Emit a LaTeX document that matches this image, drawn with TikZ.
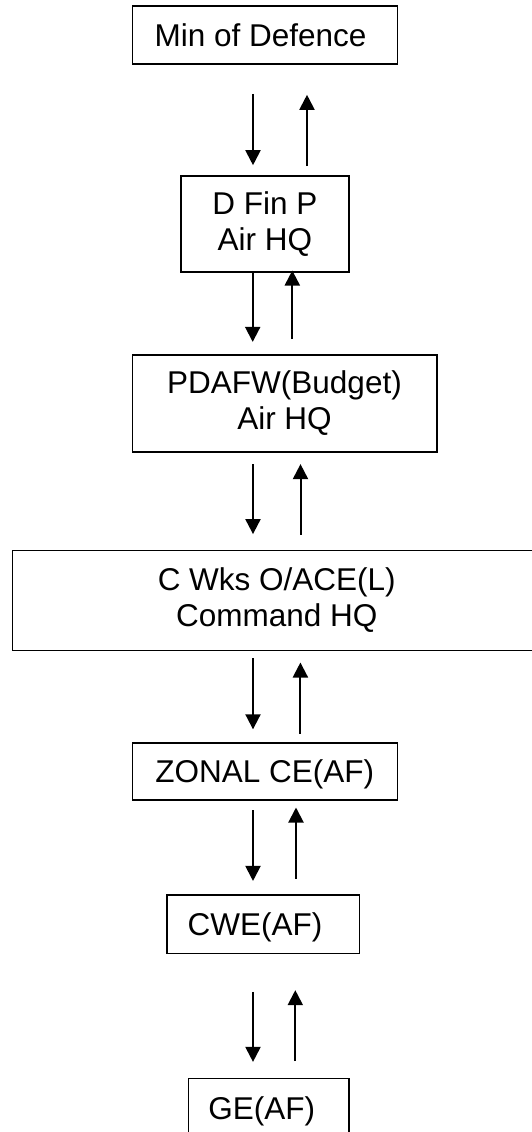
\documentclass[tikz,border=0pt]{standalone}
\usepackage{fontspec}
\setmainfont{Liberation Sans}
\usetikzlibrary{arrows.meta}
\tikzset{
  box/.style={draw, line width=1.6pt, inner sep=0pt, align=center,
    font=\fontsize{31.5}{36}\selectfont},
  oneline/.style={text height=22.5pt, text depth=0pt},
  arr/.style={line width=2pt, -{Triangle[length=15pt,width=15pt]}}
}
\begin{document}
\begin{tikzpicture}[x=1pt,y=-1pt]
\useasboundingbox (0,0) rectangle (531,1132);
\node[box,oneline,minimum width=265pt,minimum height=58pt] (n1) at (264.8,35) {Min of Defence\hspace{8.6pt}};
\node[box,minimum width=168.3pt,minimum height=96pt] (n2) at (264.85,223.7) {D Fin P\\Air HQ};
\node[box,minimum width=304.4pt,minimum height=97pt] (n3) at (284.5,403.2) {PDAFW(Budget)\\Air HQ};
\node[box,minimum width=528.5pt,minimum height=100pt] (n4) at (276.75,600.5) {C Wks O/ACE(L)\\Command HQ};
\node[box,oneline,minimum width=265pt,minimum height=57pt] (n5) at (264.8,771.5) {ZONAL CE(AF)};
\node[box,oneline,minimum width=192.6pt,minimum height=58.3pt] (n6) at (263,924.2) {CWE(AF)\hspace{16pt}};
\node[box,oneline,minimum width=160.7pt,minimum height=60pt] (n7) at (268.7,1108.3) {GE(AF)\hspace{14pt}};

% 1 <-> 2
\draw[arr,shorten <=29pt,shorten >=9.7pt] ([xshift=-11.8pt]n1.south) -- ([xshift=-11.8pt]n1.south |- n2.north);
\draw[arr,shorten <=8.7pt,shorten >=30pt] ([xshift=42.15pt]n2.north) -- ([xshift=42.15pt]n2.north |- n1.south);
% 2 <-> 3
\draw[arr,shorten >=12pt] ([xshift=-12.15pt]n2.south) -- ([xshift=-12.15pt]n2.south |- n3.north);
\draw[arr,shorten <=14.7pt,shorten >=-2pt] ([xshift=7.8pt]n3.north) -- ([xshift=7.8pt]n3.north |- n2.south);
% 3 <-> 4
\draw[arr,shorten <=11.6pt,shorten >=15.6pt] ([xshift=-31.5pt]n3.south) -- ([xshift=-31.5pt]n3.south |- n4.north);
\draw[arr,shorten <=15.2pt,shorten >=11.6pt] ([xshift=23.75pt]n4.north) -- ([xshift=23.75pt]n4.north |- n3.south);
% 4 <-> 5
\draw[arr,shorten <=6.8pt,shorten >=12.9pt] ([xshift=-23.75pt]n4.south) -- ([xshift=-23.75pt]n4.south |- n5.north);
\draw[arr,shorten <=8.5pt,shorten >=11.2pt] ([xshift=35.6pt]n5.north) -- ([xshift=35.6pt]n5.north |- n4.south);
% 5 <-> 6
\draw[arr,shorten <=9.3pt,shorten >=13.3pt] ([xshift=-11.8pt]n5.south) -- ([xshift=-11.8pt]n5.south |- n6.north);
\draw[arr,shorten <=15.7pt,shorten >=6.7pt] ([xshift=33pt]n6.north) -- ([xshift=33pt]n6.north |- n5.south);
% 6 <-> 7
\draw[arr,shorten <=37.7pt,shorten >=15.6pt] ([xshift=-10pt]n6.south) -- ([xshift=-10pt]n6.south |- n7.north);
\draw[arr,shorten <=16.3pt,shorten >=36pt] ([xshift=26.6pt]n7.north) -- ([xshift=26.6pt]n7.north |- n6.south);
\end{tikzpicture}
\end{document}
